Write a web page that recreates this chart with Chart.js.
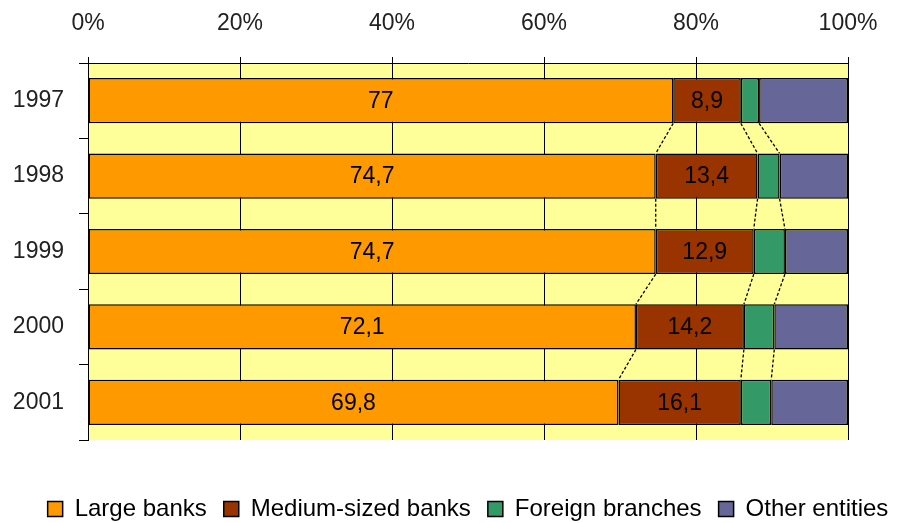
<!DOCTYPE html>
<html>
<head>
<meta charset="utf-8">
<script src="https://cdn.jsdelivr.net/npm/chart.js@4/dist/chart.umd.min.js"></script>
<style>
  html, body { margin: 0; padding: 0; background: #fff; }
  #wrap { width: 900px; height: 523px; position: relative; }
</style>
</head>
<body>
<div id="wrap"><canvas id="chart"></canvas></div>
<script>
const years = ['1997', '1998', '1999', '2000', '2001'];
const largeBanks = [77, 74.7, 74.7, 72.1, 69.8];
const mediumBanks = [8.9, 13.4, 12.9, 14.2, 16.1];
const foreignBranches = [2.4, 2.9, 4.1, 4.0, 4.0];
const otherEntities = [11.7, 9.0, 8.3, 9.7, 10.1];
const xTicks = [0, 20, 40, 60, 80, 100];

const FONT = "'Liberation Sans', Arial, sans-serif";

// yellow plot area
const plotBackground = {
  id: 'plotBackground',
  beforeDraw(chart) {
    const { ctx, chartArea: a } = chart;
    ctx.save();
    ctx.fillStyle = '#FFFF99';
    ctx.fillRect(a.left, a.top, a.right - a.left, a.bottom - a.top);
    ctx.restore();
  }
};

// nudge the legend a bit right and down, like the original
const legendNudge = {
  id: 'legendNudge',
  afterLayout(chart) {
    const lg = chart.legend;
    if (!lg) return;
    lg.left += 18; lg.right += 18;
    lg.top += 8; lg.bottom += 8;
  }
};

// dashed series lines between stacked bars
const seriesLines = {
  id: 'seriesLines',
  afterDatasetsDraw(chart) {
    const ctx = chart.ctx;
    ctx.save();
    ctx.strokeStyle = '#000';
    ctx.lineWidth = 1.3;
    ctx.setLineDash([3, 2]);
    for (let d = 0; d < 3; d++) {
      const bars = chart.getDatasetMeta(d).data;
      for (let i = 0; i < bars.length - 1; i++) {
        const a = bars[i], b = bars[i + 1];
        ctx.beginPath();
        ctx.moveTo(a.x, a.y + a.height / 2);
        ctx.lineTo(b.x, b.y - b.height / 2);
        ctx.stroke();
      }
    }
    ctx.restore();
  }
};

// value labels in the first two series
const valueLabels = {
  id: 'valueLabels',
  afterDatasetsDraw(chart) {
    const ctx = chart.ctx;
    ctx.save();
    ctx.font = '23px ' + FONT;
    ctx.fillStyle = '#000';
    ctx.textAlign = 'center';
    ctx.textBaseline = 'middle';
    [0, 1].forEach(d => {
      const ds = chart.data.datasets[d];
      chart.getDatasetMeta(d).data.forEach((bar, i) => {
        const cx = (bar.x + bar.base) / 2;
        ctx.fillText(String(ds.data[i]).replace('.', ','), cx, bar.y + 1);
      });
    });
    ctx.restore();
  }
};

const mk = (label, data, color) => ({
  label, data,
  backgroundColor: color,
  borderColor: '#000',
  borderWidth: 1.5,
  borderSkipped: false,
  barPercentage: 0.6,
  categoryPercentage: 1
});

new Chart(document.getElementById('chart'), {
  type: 'bar',
  data: {
    labels: years,
    datasets: [
      mk('Large banks', largeBanks, '#FF9900'),
      mk('Medium-sized banks', mediumBanks, '#993300'),
      mk('Foreign branches', foreignBranches, '#339966'),
      mk('Other entities', otherEntities, '#666699')
    ]
  },
  options: {
    indexAxis: 'y',
    responsive: true,
    maintainAspectRatio: false,
    animation: false,
    layout: { padding: 0 },
    plugins: {
      tooltip: { enabled: false },
      legend: {
        position: 'bottom',
        labels: {
          color: '#000',
          font: { family: FONT, size: 24 },
          boxWidth: 15,
          boxHeight: 15,
          padding: 17
        }
      }
    },
    scales: {
      x: {
        position: 'top',
        stacked: true,
        min: 0,
        max: 100,
        afterBuildTicks(scale) {
          scale.ticks = xTicks.map(v => ({ value: v }));
        },
        afterFit(scale) { scale.height = 63; },
        ticks: {
          color: '#222',
          font: { family: FONT, size: 23 },
          padding: 20,
          callback: v => v + '%'
        },
        grid: { color: '#000', lineWidth: 1, tickLength: 6, tickColor: '#000' },
        border: { color: '#000', width: 1 }
      },
      y: {
        stacked: true,
        afterFit(scale) { scale.width = 88; },
        ticks: {
          color: '#222',
          font: { family: FONT, size: 23 },
          padding: 15
        },
        grid: {
          offset: true,
          drawOnChartArea: false,
          tickLength: 9,
          tickColor: '#000'
        },
        border: { color: '#000', width: 1 }
      },
      // empty spacers so the plot area sits where it does in the original
      spacerRight: {
        type: 'linear',
        position: 'right',
        display: true,
        afterFit(scale) { scale.width = 52; },
        ticks: { display: false },
        grid: { display: false },
        border: { display: false }
      },
      spacerBottom: {
        type: 'linear',
        position: 'bottom',
        display: true,
        afterFit(scale) { scale.height = 32; },
        ticks: { display: false },
        grid: { display: false },
        border: { display: false }
      }
    }
  },
  plugins: [plotBackground, legendNudge, seriesLines, valueLabels]
});
</script>
</body>
</html>
